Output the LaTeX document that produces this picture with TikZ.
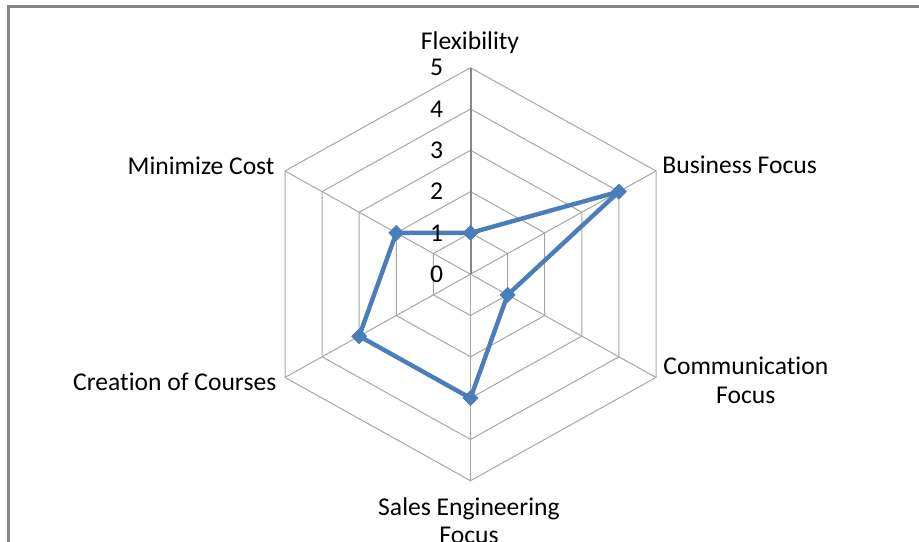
\documentclass[tikz,border=0pt]{standalone}
\usepackage{fontspec}
\setmainfont{Carlito}[RawFeature={-liga}]
\usepackage{tikz}
\usetikzlibrary{shapes.geometric,positioning,calc}
\usepackage{xcolor}
\definecolor{framegray}{HTML}{868686}
\definecolor{gridgray}{HTML}{A6A6A6}
\definecolor{seriesblue}{HTML}{4A7EBB}

\begin{document}
\begin{tikzpicture}[
    x=0.5pt, y=0.5pt,
    catlabel/.style={inner sep=0pt, font=\fontsize{12.8}{14.2}\selectfont},
    ticklabel/.style={inner sep=0pt, font=\fontsize{12.8}{14.2}\selectfont},
    gridline/.style={draw=gridgray, line width=0.5pt},
    valueaxis/.style={draw=framegray, line width=1pt},
    series/.style={draw=seriesblue, line width=2.2pt, line join=round},
    marker/.style={diamond, fill=seriesblue, inner sep=0pt, minimum size=8pt}
]
    \clip (0,0) rectangle (919,541);

    % Chart frame
    \draw[framegray, line width=1.5pt] (8.5,-20) -- (8.5,534.7) -- (940,534.7);

    \coordinate (O) at (470.5,266.8);

    \begin{scope}[shift={(O)}, x=21.42pt, y=20.65pt]
        % Rings and spokes
        \foreach \r in {1,...,5}
            \draw[gridline] (90:\r) -- (30:\r) -- (-30:\r) -- (-90:\r) -- (-150:\r) -- (150:\r) -- cycle;
        \foreach \a in {30,-30,-90,-150,150}
            \draw[gridline] (0,0) -- (\a:5);
        \draw[valueaxis] (0,0) -- (90:5);

        % Data points
        \node[marker] (flex) at (90:1) {};
        \node[marker] (business) at (30:4) {};
        \node[marker] (comm) at (-30:1) {};
        \node[marker] (sales) at (-90:3) {};
        \node[marker] (courses) at (-150:3) {};
        \node[marker] (cost) at (150:2) {};

        \draw[series] (flex.center) -- (business.center) -- (comm.center) -- (sales.center)
            -- (courses.center) -- (cost.center) -- cycle;
        \foreach \p in {flex,business,comm,sales,courses,cost}
            \node[marker] at (\p) {};

        % Value axis labels
        \foreach \v in {0,...,5}
            \node[ticklabel, left=13.5pt] (tick\v) at (90:\v) {\v};
    \end{scope}

    % Category labels
    \node[catlabel, anchor=base] (lflex) at (470,491) {Flexibility};
    \node[catlabel, anchor=base west] (lbusiness) at (662,367) {Business Focus};
    \node[catlabel, anchor=base, align=center] (lcomm) at (745.8,137.7) {Communication\\Focus};
    \node[catlabel, anchor=base, align=center] (lsales) at (469,-2.6) {Sales Engineering\\Focus};
    \node[catlabel, anchor=base east] (lcourses) at (276.7,151) {Creation of Courses};
    \node[catlabel, anchor=base east] (lcost) at (275,366.7) {Minimize Cost};

\end{tikzpicture}
\end{document}
